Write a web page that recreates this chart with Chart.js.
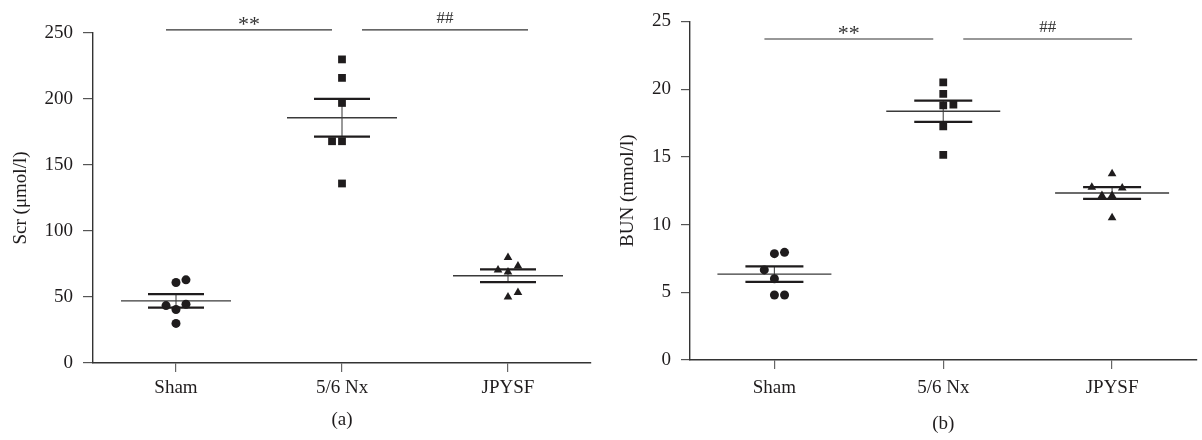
<!DOCTYPE html>
<html>
<head>
<meta charset="utf-8">
<script src="https://cdn.jsdelivr.net/npm/chart.js@4.4.1/dist/chart.umd.min.js"></script>
<style>
  body { margin: 0; background: #fff; }
  .row { display: flex; width: 1202px; height: 440px; overflow: hidden; }
</style>
</head>
<body>
<div class="row">
  <canvas id="scrChart" width="600" height="440"></canvas>
  <canvas id="bunChart" width="602" height="440"></canvas>
</div>
<script>
// groups on the x axis
const categories = ['Sham', '5/6 Nx', 'JPYSF'];

// Scr (µmol/l), one value per animal
const scrSham = [61, 63, 43.5, 44.5, 40.5, 30];
const scrNx = [230, 216, 197, 168, 168, 136];
const scrJpysf = [80, 73.5, 70.5, 69, 53.5, 50];

// BUN (mmol/l)
const bunSham = [7.85, 7.95, 6.65, 6.0, 4.8, 4.8];
const bunNx = [20.5, 19.65, 18.8, 18.85, 17.25, 15.15];
const bunJpysf = [13.75, 12.75, 12.7, 12.15, 12.15, 10.5];

// side-by-side slot of each dot (as in the scatter of the figure)
const scrShamSlot = [0, 1, -1, 1, 0, 0];
const scrNxSlot = [0, 0, 0, -1, 0, 0];
const scrJpysfSlot = [0, 1, -1, 0, 1, 0];
const bunShamSlot = [0, 1, -1, 0, 0, 1];
const bunNxSlot = [0, 0, 0, 1, 0, 0];
const bunJpysfSlot = [0, -2, 1, -1, 0, 0];

// y axis ticks
const scrTicks = [0, 50, 100, 150, 200, 250];
const bunTicks = [0, 5, 10, 15, 20, 25];

// significance bars: level on the y axis + labels
const scrSigLevel = 252.3;
const bunSigLevel = 23.7;
const sigLabels = ['**', '##'];

const SPREAD = 0.06;
const INK = '#1f1c1d';
const FONT = "'Liberation Serif', 'DejaVu Serif', serif";

function mean(arr) {
    return arr.reduce((a, b) => a + b, 0) / arr.length;
}
function sem(arr) {
    const m = mean(arr);
    const v = arr.reduce((a, b) => a + (b - m) * (b - m), 0) / (arr.length - 1);
    return Math.sqrt(v) / Math.sqrt(arr.length);
}

// mean line + SEM whiskers behind the dots
const meanSemPlugin = {
    id: 'meanSem',
    beforeDatasetsDraw(chart, args, opts) {
        const { ctx, scales: { x, y } } = chart;
        ctx.save();
        opts.groups.forEach((vals, i) => {
            const cx = x.getPixelForValue(i + 1);
            const m = mean(vals);
            const s = sem(vals);
            const yM = y.getPixelForValue(m);
            const yHi = y.getPixelForValue(m + s);
            const yLo = y.getPixelForValue(m - s);
            // vertical connector
            ctx.strokeStyle = '#555';
            ctx.lineWidth = 1.2;
            ctx.beginPath();
            ctx.moveTo(cx, yHi);
            ctx.lineTo(cx, yLo);
            ctx.stroke();
            // mean
            ctx.strokeStyle = '#3a3a3a';
            ctx.lineWidth = 1.4;
            ctx.beginPath();
            ctx.moveTo(cx - opts.meanHalf, yM);
            ctx.lineTo(cx + opts.meanHalf, yM);
            ctx.stroke();
            // SEM caps
            ctx.strokeStyle = INK;
            ctx.lineWidth = 2.2;
            [yHi, yLo].forEach((yy) => {
                ctx.beginPath();
                ctx.moveTo(cx - opts.semHalf, yy);
                ctx.lineTo(cx + opts.semHalf, yy);
                ctx.stroke();
            });
        });
        ctx.restore();
    }
};

// significance lines above the plot
const sigPlugin = {
    id: 'sigBars',
    afterDraw(chart, args, opts) {
        const { ctx, scales: { x, y } } = chart;
        const yy = y.getPixelForValue(opts.level);
        ctx.save();
        opts.bars.forEach((b) => {
            const x1 = x.getPixelForValue(b.from + 1) + b.shift;
            const x2 = x.getPixelForValue(b.to + 1) + b.shift;
            ctx.strokeStyle = '#333';
            ctx.lineWidth = 1.2;
            ctx.beginPath();
            ctx.moveTo(x1, yy);
            ctx.lineTo(x2, yy);
            ctx.stroke();
            ctx.fillStyle = '#333';
            ctx.font = b.size + 'px ' + FONT;
            ctx.textAlign = 'center';
            ctx.textBaseline = 'alphabetic';
            ctx.fillText(b.text, (x1 + x2) / 2, yy - b.lift);
        });
        ctx.restore();
    }
};

function groupData(vals, slots, g) {
    return vals.map((v, i) => ({ x: g + slots[i] * SPREAD, y: v }));
}

function makeChart(id, cfg) {
    const ctx = document.getElementById(id).getContext('2d');
    return new Chart(ctx, {
        type: 'scatter',
        data: {
            datasets: [
                {
                    data: groupData(cfg.groups[0], cfg.slots[0], 1),
                    pointStyle: 'circle', pointRadius: 4.5,
                    backgroundColor: INK, borderColor: INK, borderWidth: 0
                },
                {
                    data: groupData(cfg.groups[1], cfg.slots[1], 2),
                    pointStyle: 'rect', pointRadius: 5.5,
                    backgroundColor: INK, borderColor: INK, borderWidth: 0
                },
                {
                    data: groupData(cfg.groups[2], cfg.slots[2], 3),
                    pointStyle: 'triangle', pointRadius: 5,
                    backgroundColor: INK, borderColor: INK, borderWidth: 0
                }
            ]
        },
        options: {
            responsive: false,
            animation: false,
            devicePixelRatio: 1,
            layout: { padding: cfg.padding },
            plugins: {
                legend: { display: false },
                tooltip: { enabled: false },
                meanSem: { groups: cfg.groups, meanHalf: cfg.meanHalf, semHalf: cfg.semHalf },
                sigBars: {
                    level: cfg.sigLevel,
                    bars: [
                        { from: 0, to: 1, text: sigLabels[0], shift: -10, lift: -1, size: 22 },
                        { from: 1, to: 2, text: sigLabels[1], shift: 20, lift: 7, size: 17 }
                    ]
                }
            },
            scales: {
                x: {
                    type: 'linear',
                    min: 0.5,
                    max: 3.5,
                    afterBuildTicks: (scale) => {
                        scale.ticks = categories.map((c, i) => ({ value: i + 1 }));
                    },
                    afterFit: (scale) => { scale.height = cfg.xHeight; },
                    ticks: {
                        autoSkip: false,
                        maxRotation: 0,
                        padding: cfg.xTickPad,
                        color: INK,
                        font: { family: FONT, size: 19 },
                        callback: (v) => categories[v - 1]
                    },
                    grid: {
                        display: true, drawOnChartArea: false, drawTicks: true,
                        tickLength: 9, color: '#666', lineWidth: 1.2
                    },
                    border: { display: true, color: '#333', width: 1.4 },
                    title: {
                        display: true, text: cfg.panel, color: INK,
                        font: { family: FONT, size: 19 },
                        padding: { top: 0, bottom: cfg.panelPad }
                    }
                },
                y: {
                    min: 0,
                    max: cfg.ticks[cfg.ticks.length - 1],
                    afterBuildTicks: (scale) => {
                        scale.ticks = cfg.ticks.map((t) => ({ value: t }));
                    },
                    afterFit: (scale) => { scale.width = cfg.yWidth; },
                    ticks: {
                        padding: 10,
                        color: INK,
                        font: { family: FONT, size: 19 }
                    },
                    grid: {
                        display: true, drawOnChartArea: false, drawTicks: true,
                        tickLength: cfg.yTickLen, color: '#555', lineWidth: 1.2
                    },
                    border: { display: true, color: '#333', width: 1.4 },
                    title: {
                        display: true, text: cfg.yTitle, color: INK,
                        font: { family: FONT, size: 19 },
                        padding: { top: cfg.yTitlePad, bottom: 0 }
                    }
                }
            }
        },
        plugins: [meanSemPlugin, sigPlugin]
    });
}

makeChart('scrChart', {
    groups: [scrSham, scrNx, scrJpysf],
    slots: [scrShamSlot, scrNxSlot, scrJpysfSlot],
    ticks: scrTicks,
    sigLevel: scrSigLevel,
    yTitle: 'Scr (\u03BCmol/l)',
    panel: '(a)',
    padding: { top: 33, right: 9, bottom: 0, left: 0 },
    xHeight: 77,
    yWidth: 93,
    yTickLen: 10,
    xTickPad: 5,
    panelPad: 9,
    yTitlePad: 10,
    meanHalf: 55,
    semHalf: 28
});

makeChart('bunChart', {
    groups: [bunSham, bunNx, bunJpysf],
    slots: [bunShamSlot, bunNxSlot, bunJpysfSlot],
    ticks: bunTicks,
    sigLevel: bunSigLevel,
    yTitle: 'BUN (mmol/l)',
    panel: '(b)',
    padding: { top: 20, right: 0, bottom: 0, left: 0 },
    xHeight: 80,
    yWidth: 90,
    yTickLen: 9,
    xTickPad: 8,
    panelPad: 5,
    yTitlePad: 17,
    meanHalf: 57,
    semHalf: 29
});
</script>
</body>
</html>
